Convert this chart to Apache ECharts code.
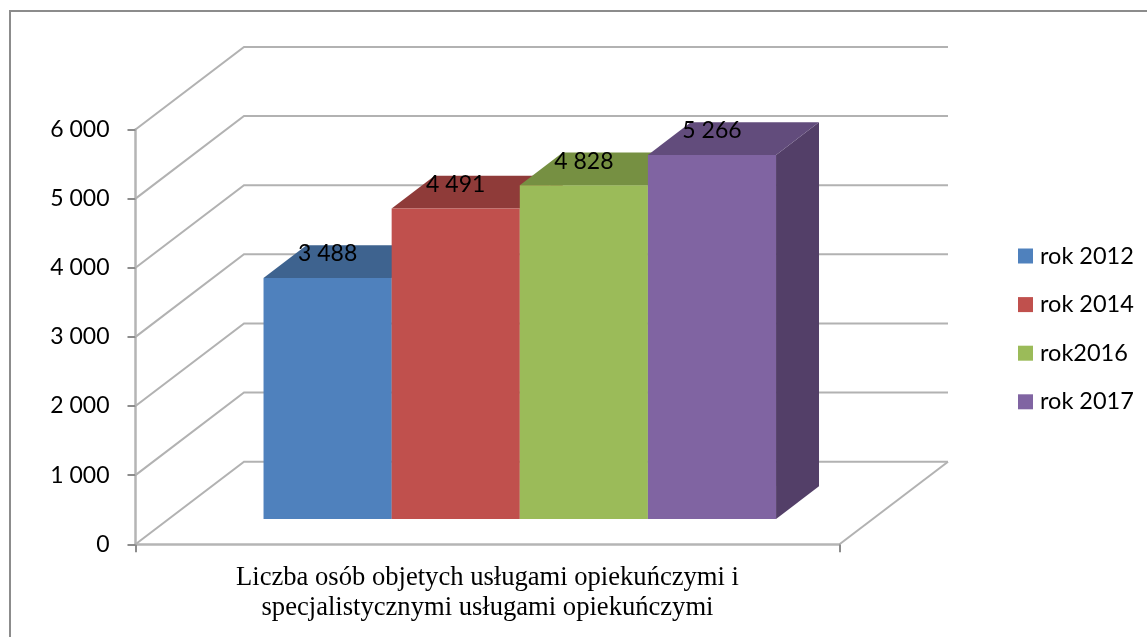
<!DOCTYPE html>
<html>
<head>
<meta charset="utf-8">
<style>html, body { margin: 0; padding: 0; background: #fff; } #chart { width: 1147px; height: 637px; }</style>
<script src="https://cdnjs.cloudflare.com/ajax/libs/echarts/6.0.0/echarts.min.js"></script>
</head>
<body>
<div id="chart"></div>
<script>
const categories = ['Liczba osób objetych usługami opiekuńczymi i\nspecjalistycznymi usługami opiekuńczymi'];
const seriesNames = ['rok 2012', 'rok 2014', 'rok2016', 'rok 2017'];
const seriesValues = [3488, 4491, 4828, 5266];
const valueLabels = ['3 488', '4 491', '4 828', '5 266'];
const yTicks = [0, 1000, 2000, 3000, 4000, 5000, 6000];

const frontColors = ['#4f81bd', '#c0504d', '#9bbb59', '#8064a2'];
const topColors = ['#3e638f', '#8f3b39', '#769042', '#624c7c'];
const sideColors = ['#375578', '#7b3331', '#637a38', '#533f68'];

// the "3d" look: back wall is shifted by this many pixels from the front plane
const wallDx = 108.5, wallDy = 82.6;
// where the bars sit between front plane (0) and back wall (1)
const depthFront = 0.306, depthBack = 0.702;
// bars block as a share of the plot width
const blockLeft = 0.1347, barShare = 0.1820;

const gridColor = '#b2b2b2';
const axisColor = '#b5b5b5';
const labelFont = 'Lato, Carlito, sans-serif';

function renderGrid(params, api) {
    const p = api.coord([0, api.value(1)]);
    const width = api.size([1, 0])[0];
    const left = p[0] - width / 2;
    const pts = [[left, p[1]], [left + wallDx, p[1] - wallDy], [left + width + wallDx, p[1] - wallDy]];
    const children = [{
        type: 'polyline',
        shape: { points: pts },
        style: { stroke: gridColor, lineWidth: 2, fill: null }
    }];
    // floor right edge
    if (api.value(1) === 0) {
        children.push({
            type: 'line',
            shape: { x1: left + width, y1: p[1], x2: left + width + wallDx, y2: p[1] - wallDy },
            style: { stroke: gridColor, lineWidth: 2 }
        });
    }
    return { type: 'group', children: children };
}

function makeBarRender(i) {
    return function (params, api) {
        const base = api.coord([0, 0]);
        const topPt = api.coord([0, api.value(1)]);
        const width = api.size([1, 0])[0];
        const plotLeft = base[0] - width / 2;
        const x0 = plotLeft + width * (blockLeft + barShare * i) + wallDx * depthFront;
        const x1 = x0 + width * barShare;
        const yb = base[1] - wallDy * depthFront;
        const yt = topPt[1] - wallDy * depthFront;
        const dx = wallDx * (depthBack - depthFront);
        const dy = wallDy * (depthBack - depthFront);
        const children = [
            {
                type: 'polygon',
                shape: { points: [[x1, yt], [x1 + dx, yt - dy], [x1 + dx, yb - dy], [x1, yb]] },
                style: { fill: sideColors[i] }
            },
            {
                type: 'polygon',
                shape: { points: [[x0, yt], [x0 + dx, yt - dy], [x1 + dx, yt - dy], [x1, yt]] },
                style: { fill: topColors[i] }
            },
            {
                type: 'rect',
                shape: { x: x0, y: yt, width: x1 - x0, height: yb - yt },
                style: { fill: frontColors[i] }
            },
            {
                type: 'text',
                z2: 10,
                style: {
                    x: (x0 + x1) / 2, y: yt - 24,
                    text: valueLabels[i],
                    fill: '#000', font: '23px ' + labelFont,
                    align: 'center', verticalAlign: 'middle'
                }
            }
        ];
        return { type: 'group', children: children };
    };
}

const series = [{
    type: 'custom',
    silent: true,
    z: 1,
    renderItem: renderGrid,
    data: yTicks.map(t => [0, t]),
    clip: false
}];

seriesNames.forEach((name, i) => {
    series.push({
        name: name,
        type: 'custom',
        z: 2 + i,
        itemStyle: { color: frontColors[i] },
        renderItem: makeBarRender(i),
        data: [[0, seriesValues[i]]],
        clip: false
    });
});

const chart = echarts.init(document.getElementById('chart'), null, { renderer: 'canvas' });
chart.setOption({
    animation: false,
    backgroundColor: '#fff',
    graphic: [{
        type: 'polyline',
        shape: { points: [[10, 637], [10, 11], [1147, 11]] },
        style: { stroke: '#8c8c8c', lineWidth: 2, fill: null },
        z: 0
    }],
    legend: {
        orient: 'vertical',
        left: 1013,
        top: 239,
        itemWidth: 15,
        itemHeight: 15,
        itemGap: 24.6,
        icon: 'rect',
        data: seriesNames,
        textStyle: { color: '#000', fontSize: 23.5, fontFamily: labelFont, padding: [0, 0, 0, 2] }
    },
    grid: { left: 135.5, right: 307.5, top: 129.5, bottom: 92.7 },
    xAxis: {
        type: 'category',
        data: categories,
        axisLine: { lineStyle: { color: axisColor, width: 2.5 } },
        axisTick: { show: true, length: 8, lineStyle: { color: '#8c8c8c', width: 2 } },
        axisLabel: {
            interval: 0, color: '#000', fontFamily: 'Liberation Serif', fontSize: 26.6,
            lineHeight: 30, margin: 19
        }
    },
    yAxis: {
        type: 'value',
        min: 0,
        max: 6000,
        interval: 1000,
        splitLine: { show: false },
        axisLine: { show: true, lineStyle: { color: axisColor, width: 2.5 } },
        axisTick: { show: true, length: 8, lineStyle: { color: '#8c8c8c', width: 2 } },
        axisLabel: {
            color: '#000', fontSize: 23, fontFamily: labelFont, margin: 26,
            padding: [5, 0, 0, 0],
            formatter: v => String(v).replace(/\B(?=(\d{3})+$)/, ' ')
        }
    },
    series: series
});
</script>
</body>
</html>
